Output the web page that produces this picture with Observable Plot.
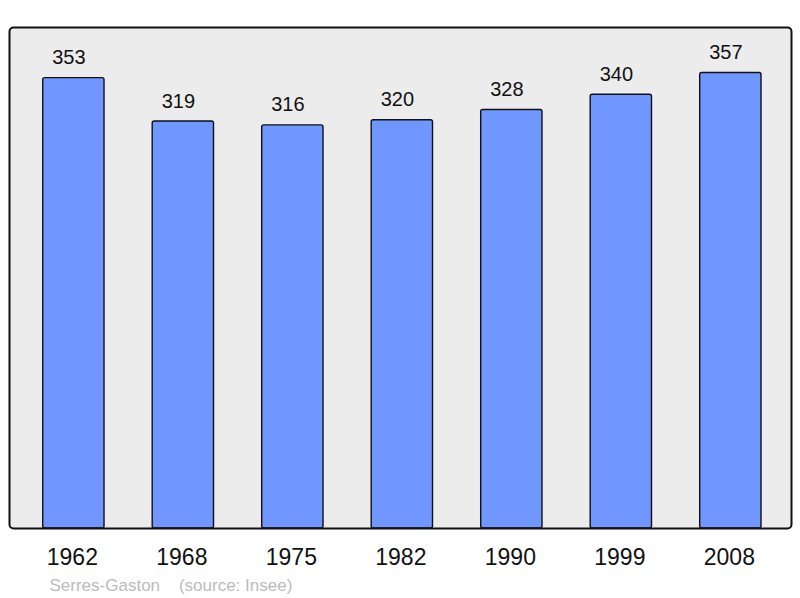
<!DOCTYPE html>
<html>
<head>
<meta charset="utf-8">
<script src="https://cdn.jsdelivr.net/npm/d3@7"></script>
<script src="https://cdn.jsdelivr.net/npm/@observablehq/plot@0.6"></script>
<style>
  html, body { margin: 0; padding: 0; background: #ffffff; }
  svg { display: block; }
</style>
</head>
<body>
<div id="chart"></div>
<script>
const years = ["1962", "1968", "1975", "1982", "1990", "1999", "2008"];
const population = [353, 319, 316, 320, 328, 340, 357];
const footerText = "Serres-Gaston\u00a0\u00a0\u00a0\u00a0(source: Insee)";

const data = years.map((y, i) => ({year: y, value: population[i]}));
const yMax = d3.max(population) * 1.1;

const chart = Plot.plot({
  width: 800,
  height: 598,
  marginLeft: 9,
  marginRight: 9,
  marginTop: 27,
  marginBottom: 70,
  style: {fontFamily: "'Liberation Sans', Arial, sans-serif", background: "#ffffff"},
  x: {domain: years, range: [42.7, 761], paddingInner: 0.44, paddingOuter: 0, round: false, label: null},
  y: {domain: [0, yMax], axis: null},
  marks: [
    Plot.frame({fill: "#ececec", stroke: "none", rx: 4}),
    Plot.barY(data, {x: "year", y: "value", fill: "#7096ff", stroke: "#111111", strokeWidth: 1.4, rx: 2}),
    Plot.text(data, {x: "year", y: "value", text: d => String(d.value), dx: -5, dy: -14, lineAnchor: "bottom", fontSize: 20, fill: "#111111"}),
    Plot.frame({fill: "none", stroke: "#111111", strokeWidth: 2, rx: 4}),
    Plot.axisX({tickSize: 0, tickPadding: 20, fontSize: 23, dx: -1.5, label: null, fill: "#111111"}),
    Plot.text([footerText], {frameAnchor: "bottom-left", text: d => d, dx: 40, dy: 62, lineAnchor: "bottom", textAnchor: "start", fontSize: 17, fill: "#bbbbbb"})
  ]
});
document.getElementById("chart").appendChild(chart);
</script>
</body>
</html>
